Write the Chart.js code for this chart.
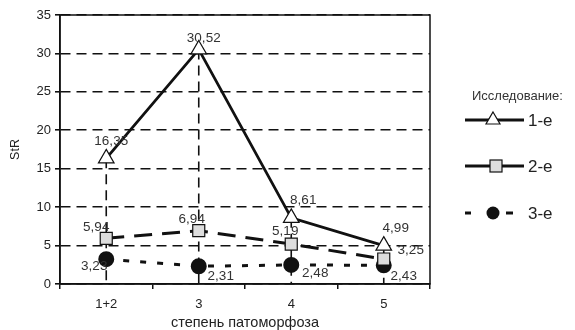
<!DOCTYPE html>
<html><head><meta charset="utf-8">
<script src="https://cdn.jsdelivr.net/npm/chart.js@4"></script>
<style>html,body{margin:0;padding:0;background:#fff}#wrap{width:575px;height:330px}</style>
</head><body><div id="wrap"><canvas id="c" width="575" height="330"></canvas></div>
<script>
const categories = ["1+2", "3", "4", "5"];
const series1 = [16.35, 30.52, 8.61, 4.99];
const series2 = [5.94, 6.94, 5.19, 3.25];
const series3 = [3.23, 2.31, 2.48, 2.43];
const seriesNames = ["1-е", "2-е", "3-е"];
const legendTitle = "Исследование:";
const yTitle = "StR";
const xTitle = "степень патоморфоза";
const fmt = v => v.toFixed(2).replace('.', ',');

// label offsets per point: [dx, dy]
const labelPos = [
  [[5,-17],[5,-11],[12,-18],[12,-17]],
  [[-10,-11],[-7,-11],[-6,-13],[27,-9]],
  [[-12,7],[22,10],[24,8],[20,11]]
];
const FAM = '"Liberation Sans", Arial, sans-serif';

const framePlugin = {
  id: 'frame',
  beforeDatasetsDraw(chart) {
    const {ctx, chartArea: a, scales: {x, y}} = chart;
    ctx.save();
    ctx.strokeStyle = '#111'; ctx.lineWidth = 1.6; ctx.setLineDash([10,6]);
    series1.forEach((v, i) => {
      const px = x.getPixelForValue(i);
      ctx.beginPath(); ctx.moveTo(px, y.getPixelForValue(v)); ctx.lineTo(px, y.getPixelForValue(0)); ctx.stroke();
    });
    ctx.setLineDash([]);
    ctx.lineWidth = 1.5;
    ctx.strokeRect(a.left, a.top, a.right - a.left, a.bottom - a.top);
    ctx.restore();
  },
  afterDatasetsDraw(chart) {
    const {ctx, scales: {x, y}} = chart;
    ctx.save();
    ctx.font = '13.5px ' + FAM; ctx.fillStyle = '#333'; ctx.textBaseline = 'middle'; ctx.textAlign = 'center';
    [series1, series2, series3].forEach((s, si) => {
      s.forEach((v, i) => {
        const p = labelPos[si][i];
        ctx.fillText(fmt(v), x.getPixelForValue(i) + p[0], y.getPixelForValue(v) + p[1]);
      });
    });
    // legend
    ctx.textAlign = 'left';
    ctx.font = '13px ' + FAM;
    ctx.fillText(legendTitle, 472, 96);
    const ys = [120, 166, 213];
    const mxs = [493, 496, 493];
    ys.forEach((yy, i) => {
      ctx.strokeStyle = '#111'; ctx.lineWidth = 3;
      if (i === 2) {
        ctx.beginPath(); ctx.moveTo(465, yy); ctx.lineTo(471, yy); ctx.stroke();
        ctx.beginPath(); ctx.moveTo(506, yy); ctx.lineTo(513, yy); ctx.stroke();
      } else {
        ctx.beginPath(); ctx.moveTo(465, yy); ctx.lineTo(524, yy); ctx.stroke();
      }
      const mx = mxs[i];
      ctx.lineWidth = 1.2; ctx.strokeStyle = '#111';
      if (i === 0) {
        ctx.fillStyle = '#fff';
        ctx.beginPath(); ctx.moveTo(mx, yy - 8); ctx.lineTo(mx + 7, yy + 4); ctx.lineTo(mx - 7, yy + 4); ctx.closePath(); ctx.fill(); ctx.stroke();
      } else if (i === 1) {
        ctx.fillStyle = '#ddd';
        ctx.fillRect(mx - 6, yy - 6, 12, 12); ctx.strokeRect(mx - 6, yy - 6, 12, 12);
      } else {
        ctx.fillStyle = '#111';
        ctx.beginPath(); ctx.arc(mx, yy, 6.5, 0, Math.PI * 2); ctx.fill();
      }
      ctx.fillStyle = '#222';
      ctx.font = '17px ' + FAM;
      ctx.fillText(seriesNames[i], 528, yy + 1);
    });
    ctx.restore();
  }
};

new Chart(document.getElementById('c'), {
  type: 'line',
  data: {
    labels: categories,
    datasets: [
      {label: seriesNames[0], data: series1, borderColor: '#111', borderWidth: 2.8, pointStyle: 'triangle', pointRadius: 9, pointBackgroundColor: '#fff', pointBorderColor: '#111', pointBorderWidth: 1.2, tension: 0},
      {label: seriesNames[1], data: series2, borderColor: '#111', borderWidth: 3, borderDash: [18, 10], pointStyle: 'rect', pointRadius: 8.5, pointBackgroundColor: '#ddd', pointBorderColor: '#111', pointBorderWidth: 1.2, tension: 0},
      {label: seriesNames[2], data: series3, borderColor: '#111', borderWidth: 3, borderDash: [6, 11], pointStyle: 'circle', pointRadius: 6.5, pointBackgroundColor: '#111', pointBorderColor: '#111', tension: 0}
    ]
  },
  options: {
    responsive: false, animation: false,
    layout: {padding: {top: 15, right: 145, left: 0, bottom: 0}},
    plugins: {legend: {display: false}, tooltip: {enabled: false}},
    scales: {
      x: {
        offset: true,
        afterFit(s) { s.height = 46; },
        grid: {offset: true, drawOnChartArea: false, drawTicks: true, tickLength: 5, color: '#111', lineWidth: 1.5},
        border: {color: '#111', width: 1.5},
        ticks: {color: '#222', font: {family: FAM, size: 13}, padding: 8},
        title: {display: true, text: xTitle, color: '#222', font: {family: FAM, size: 14.5}, padding: {top: 0, bottom: -2}}
      },
      y: {
        min: 0, max: 35,
        afterFit(s) { s.width = 60; },
        ticks: {stepSize: 5, color: '#222', font: {family: FAM, size: 13}, padding: 4},
        grid: {color: '#111', lineWidth: 1.6, tickLength: 5, drawTicks: true},
        border: {dash: [10, 6], color: '#111', width: 1.5},
        title: {display: true, text: yTitle, color: '#222', font: {family: FAM, size: 12.5}, padding: {top: 8, bottom: 0}}
      }
    }
  },
  plugins: [framePlugin]
});
</script></body></html>
